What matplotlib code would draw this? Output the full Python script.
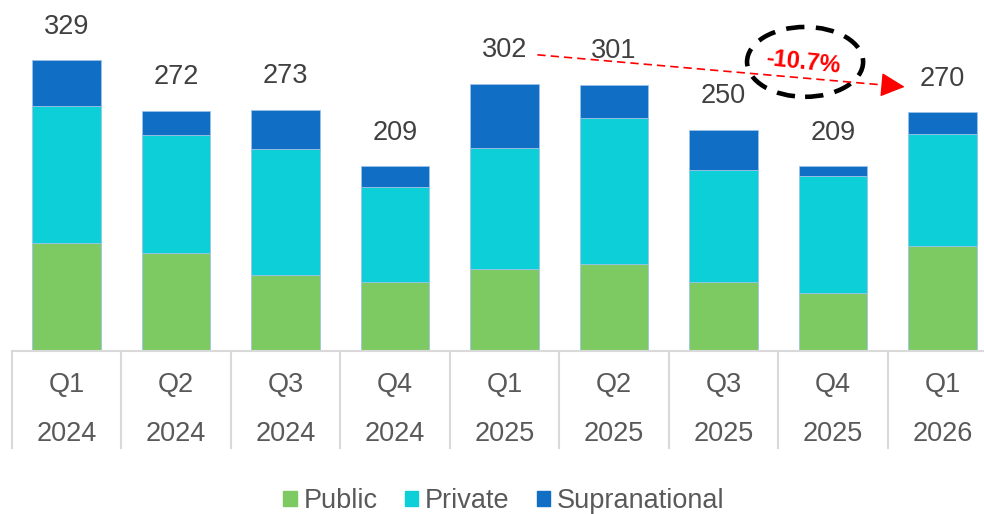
import numpy as np
import matplotlib
matplotlib.use('Agg')
from matplotlib import pyplot as plt
from matplotlib.patches import Ellipse, Patch

quarters = ['Q1', 'Q2', 'Q3', 'Q4', 'Q1', 'Q2', 'Q3', 'Q4', 'Q1']
years    = ['2024', '2024', '2024', '2024', '2025', '2025', '2025', '2025', '2026']

public        = [122, 111, 86, 78, 93, 98, 78, 66, 119]
private       = [155, 133, 143, 108, 137, 166, 127, 132, 126]
supranational = [52, 28, 44, 23, 72, 37, 45, 11, 25]
totals        = [329, 272, 273, 209, 302, 301, 250, 209, 270]

change_label = '-10.7%'

GREEN = '#7ECA62'
CYAN  = '#0CCFD8'
BLUE  = '#106EC4'
GRID  = '#D9D9D9'
TXT   = '#404040'

plt.rcParams['font.family'] = ['Liberation Sans', 'DejaVu Sans']

W, H = 984, 514
fig = plt.figure(figsize=(W / 100, H / 100), dpi=100)

# axes: baseline at pixel 351, category pitch ~109.5 px
left_px, right_px, base_px = 11.75, 997.25, 351
ax = fig.add_axes([left_px / W, (H - base_px) / H, (right_px - left_px) / W, base_px / H])

x = np.arange(len(quarters))
bw = 0.63
edge = dict(edgecolor='#9CC3E8', linewidth=0.6)
ax.bar(x, public, bw, color=GREEN, **edge)
ax.bar(x, private, bw, bottom=public, color=CYAN, **edge)
bottom2 = np.array(public) + np.array(private)
ax.bar(x, supranational, bw, bottom=bottom2, color=BLUE, **edge)

ax.set_xlim(-0.5, len(quarters) - 0.5)
ax.set_ylim(0, 397)

for xi, t in zip(x, totals):
    ax.text(xi, t + 30, str(t), ha='center', va='baseline', fontsize=19.5, color=TXT)

# category table below the axis
ax.set_xticks(x)
ax.set_xticklabels([q + '\n' + y for q, y in zip(quarters, years)],
                   fontsize=19.5, color='#595959', linespacing=2.15)
ax.tick_params(axis='x', length=0, pad=15)
ax.set_yticks([])
for s in ['left', 'right', 'top']:
    ax.spines[s].set_visible(False)
ax.spines['bottom'].set_color(GRID)
ax.spines['bottom'].set_linewidth(1.5)
for b in np.arange(-0.5, len(quarters), 1.0):
    ax.plot([b, b], [0, -110], color=GRID, lw=1.5, clip_on=False)

# trend annotation
x0, y0, x1, y1 = 4.30, 335, 7.68, 298.5
xe = x1 - 0.15
ax.plot([x0, xe], [y0, y0 + (y1 - y0) * (xe - x0) / (x1 - x0)],
        color='red', lw=1.2, ls=(0, (5, 3)), clip_on=False)
ax.annotate('', xy=(x1, y1), xytext=(x1 - 0.18, y1 + 2.0),
            arrowprops=dict(arrowstyle='-|>', color='red', lw=1.0, mutation_scale=38))
ax.add_patch(Ellipse((6.745, 327), 1.06, 79, fill=False, edgecolor='black',
                     lw=3.3, ls=(0, (4, 2.5)), clip_on=False))
ax.text(6.73, 326, change_label, ha='center', va='center', fontsize=17, color='red',
        fontweight='bold', rotation=-6)

handles = [Patch(color=GREEN, label='Public'), Patch(color=CYAN, label='Private'),
           Patch(color=BLUE, label='Supranational')]
fig.legend(handles=handles, loc='lower center', bbox_to_anchor=(0.512, -0.048), ncol=3,
           frameon=False, fontsize=19.5, labelcolor='#595959', handlelength=0.5,
           handleheight=0.5, handletextpad=0.25, columnspacing=1.0)

fig.savefig('out.png', dpi=100)
